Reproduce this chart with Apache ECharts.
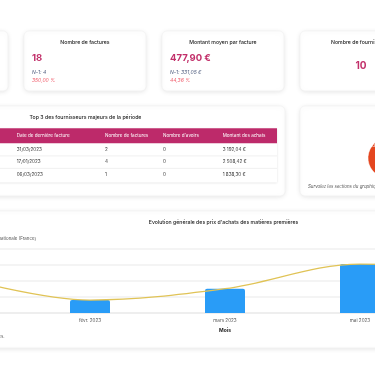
<!DOCTYPE html>
<html><head><meta charset="utf-8">
<script src="https://cdn.jsdelivr.net/npm/echarts@6/dist/echarts.min.js"></script>
<style>html,body{margin:0;padding:0;background:#fff;overflow:hidden;width:375px;height:366px;position:relative}
#c{position:absolute;left:-150px;top:0;width:720px;height:366px}</style>
</head><body><div id="c"></div>
<script>
// ---- Data ----
var kpiTitles = ['Nombre de factures', 'Montant moyen par facture', 'Nombre de fournisseurs'];
var kpiValues = ['18', '477,90 €', '10'];
var kpiPrevious = ['N-1: 4', 'N-1: 331,05 €', ''];
var kpiChanges = ['350,00 %', '44,36 %', ''];

var tableTitle = 'Top 3 des fournisseurs majeurs de la période';
var tableHeaders = ['Date de dernière facture', 'Nombre de factures', "Nombre d'avoirs", 'Montant des achats'];
var lastInvoiceDates = ['31/03/2023', '17/01/2023', '06/03/2023'];
var invoiceCounts = ['2', '4', '1'];
var creditCounts = ['0', '0', '0'];
var purchaseAmounts = ['3 192,04 €', '2 508,42 €', '1 838,30 €'];

var pieNames = ['Autres', 'Produits secs achats'];
var pieValues = [30, 70];
var pieNote = 'Survolez les sections du graphique pour plus de détails';

var chartTitle = "Evolution générale des prix d'achats des matières premières";
var legendText = 'Moyenne nationale (France)';
var months = ['janv. 2023', 'févr. 2023', 'mars 2023', 'mai 2023', 'juin 2023'];
var purchasePrices = [2.3, 0.81, 1.52, 3.06, 2.8];
var nationalAverage = [2.3, 0.81, 1.52, 3.06, 2.8];
var xAxisName = 'Mois';
var footNote = 'Prix moyens calculés sur les factures reçues.';

// ---- Layout ----
var OX = 150; // canvas offset (container starts 150px left of the page)
var FONT = 'Inter, "Noto Sans", sans-serif';
var MAG = '#c2306a';
function card(x, y, w, h) {
  return {type: 'rect', shape: {x: x + OX, y: y, width: w, height: h, r: 5}, z: 0,
    style: {fill: '#fff', stroke: '#f0f0f0', lineWidth: 0.6, shadowBlur: 5, shadowColor: 'rgba(0,0,0,0.10)', shadowOffsetY: 1}};
}
function txt(x, y, s, size, opts) {
  opts = opts || {};
  return {type: 'text', x: x + OX, y: y, z: 5, style: {text: s, fontSize: size, fontFamily: FONT,
    fill: opts.color || '#222', fontWeight: opts.weight || 'normal', fontStyle: opts.style || 'normal',
    align: opts.align || 'left', verticalAlign: 'middle'}};
}
var g = [];
// KPI cards
g.push(card(-114, 31, 122, 60));
g.push(card(24, 31, 122, 60));
g.push(card(162, 31, 122, 60));
g.push(card(300, 31, 122, 60));
var kx = [24, 162];
for (var i = 0; i < 2; i++) {
  g.push(txt(kx[i] + 61, 42, kpiTitles[i], 5.2, {weight: 500, align: 'center'}));
  g.push(txt(kx[i] + 8, 58.5, kpiValues[i], 9.5, {weight: 'bold', color: MAG}));
  g.push(txt(kx[i] + 8, 72.5, kpiPrevious[i], 5, {style: 'italic', color: '#4f5d7e'}));
  g.push(txt(kx[i] + 8, 80.5, kpiChanges[i], 5, {style: 'italic', color: '#f0616f'}));
}
g.push(txt(361, 42, kpiTitles[2], 5.2, {weight: 500, align: 'center'}));
g.push(txt(361, 66, kpiValues[2], 10, {weight: 'bold', color: MAG, align: 'center'}));

// Table card
g.push(card(-120, 106, 405, 90));
g.push(txt(85.5, 117.5, tableTitle, 5.2, {weight: 500, align: 'center'}));
g.push({type: 'rect', z: 1, shape: {x: -120 + OX, y: 128, width: 397, height: 54.5},
  style: {fill: '#fff', shadowBlur: 2, shadowColor: 'rgba(0,0,0,0.12)', shadowOffsetY: 0.5}});
g.push({type: 'rect', z: 2, shape: {x: -120 + OX, y: 128.3, width: 397, height: 15}, style: {fill: '#bd2a6a'}});
var colX = [16.7, 105, 163, 222.7];
for (var c = 0; c < tableHeaders.length; c++) g.push(txt(colX[c], 135.6, tableHeaders[c], 4.6, {color: '#fff'}));
var rowY = [149.5, 162, 174.5];
var cols = [lastInvoiceDates, invoiceCounts, creditCounts, purchaseAmounts];
for (var r = 0; r < 3; r++) {
  for (c = 0; c < 4; c++) g.push(txt(colX[c], rowY[r], cols[c][r], 4.6, {color: '#333'}));
  if (r < 2) g.push({type: 'line', z: 3, shape: {x1: -120 + OX, y1: rowY[r] + 6.4, x2: 277 + OX, y2: rowY[r] + 6.4}, style: {stroke: '#ececec', lineWidth: 0.8}});
}

// Pie card
g.push(card(300, 106, 122, 90));
g.push(txt(308, 186.5, pieNote, 4.4, {style: 'italic', color: '#555'}));

// Line/bar chart card
g.push(card(-140, 211, 700, 137));
g.push(txt(223.5, 222.3, chartTitle, 5.2, {weight: 500, align: 'center'}));
g.push(txt(36, 238.3, legendText, 4.4, {color: '#555', align: 'right'}));
g.push(txt(4.5, 336.8, footNote, 4.4, {color: '#555', align: 'right'}));

var option = {
  animation: false,
  textStyle: {fontFamily: FONT},
  graphic: g,
  grid: {left: -112.5 + OX, right: 720 - (562.5 + OX), top: 249, bottom: 53, containLabel: false},
  xAxis: {
    type: 'category', data: months,
    name: xAxisName, nameLocation: 'middle', nameGap: 15,
    nameTextStyle: {fontSize: 5, fontWeight: 'bold', color: '#222', fontFamily: FONT},
    axisLine: {lineStyle: {color: '#ececec', width: 1.5}},
    axisTick: {show: false},
    axisLabel: {fontSize: 4.6, color: '#555', margin: 5, fontFamily: FONT}
  },
  yAxis: {
    type: 'value', min: 0, max: 4, interval: 1,
    axisLabel: {show: false}, axisLine: {show: false}, axisTick: {show: false},
    splitLine: {lineStyle: {color: '#f1f1f1', width: 1.5}}
  },
  series: [
    {type: 'bar', data: purchasePrices, barWidth: 40, z: 2,
     itemStyle: {color: '#299cf7', borderRadius: [2, 2, 0, 0]}},
    {type: 'line', data: nationalAverage, smooth: 0.35, symbol: 'none', z: 3,
     lineStyle: {color: '#e0c356', width: 1.3}},
    {type: 'pie', center: [388 + OX, 158], radius: 20, startAngle: 340, z: 4,
     data: pieNames.map(function (n, k) { return {name: n, value: pieValues[k]}; }),
     color: ['#3a7ad8', '#e4461f'],
     itemStyle: {borderColor: '#fff', borderWidth: 0.5},
     label: {show: true, position: 'inside', fontSize: 4.5, color: '#fff', fontFamily: FONT,
       formatter: function (p) { return p.dataIndex === 1 ? p.name : ''; }},
     labelLine: {show: false}}
  ]
};
var chart = echarts.init(document.getElementById('c'), null, {renderer: 'canvas'});
chart.setOption(option);
</script></body></html>
